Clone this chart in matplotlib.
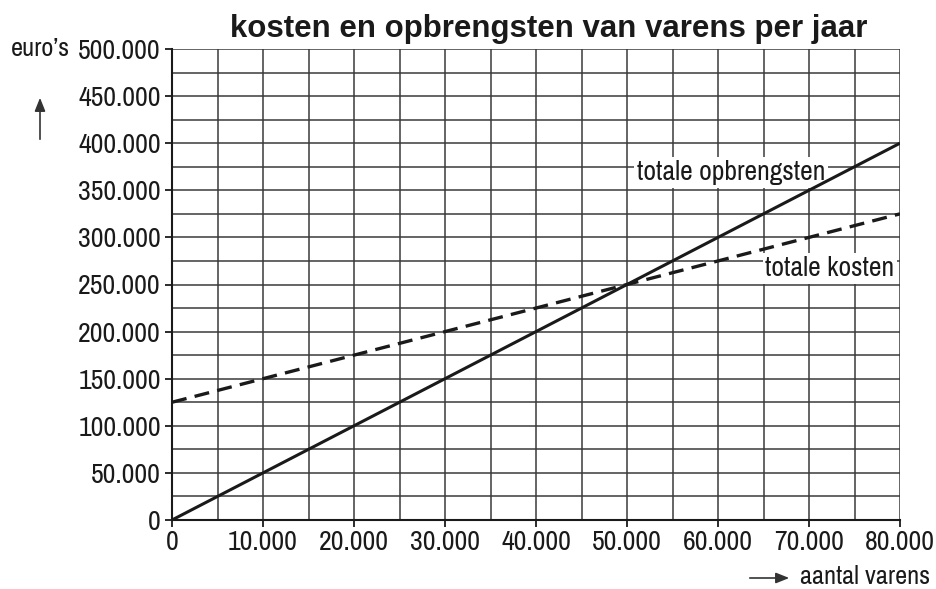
import matplotlib
matplotlib.use("Agg")
import matplotlib.pyplot as plt
from matplotlib.patches import FancyArrowPatch
import numpy as np

plt.rcParams['font.family'] = ['Archivo Narrow', 'Roboto Condensed', 'Liberation Sans', 'DejaVu Sans']

# data
aantal = [0, 80000]
opbrengsten = [0, 400000]
kosten = [125000, 325000]
x_ticks = [0, 10000, 20000, 30000, 40000, 50000, 60000, 70000, 80000]
x_labels = ['0', '10.000', '20.000', '30.000', '40.000', '50.000', '60.000', '70.000', '80.000']
y_ticks = [0, 50000, 100000, 150000, 200000, 250000, 300000, 350000, 400000, 450000, 500000]
y_labels = ['0', '50.000', '100.000', '150.000', '200.000', '250.000', '300.000', '350.000',
            '400.000', '450.000', '500.000']

fig = plt.figure(figsize=(9.36, 5.89), dpi=100)
ax = fig.add_axes([172/936, 1-520/589, (900-172)/936, (520-49)/589])
ax.set_xlim(0, 80000)
ax.set_ylim(0, 500000)

# grid
for gx in np.arange(5000, 80001, 5000):
    ax.axvline(gx, color='#3a3a3a', lw=1.1, zorder=1)
for gy in np.arange(25000, 500001, 25000):
    ax.axhline(gy, color='#3a3a3a', lw=1.1, zorder=1)

ax.plot(aantal, opbrengsten, color='#1a1a1a', lw=2.2, zorder=4, solid_capstyle='butt')
ax.plot(aantal, kosten, color='#1a1a1a', lw=2.4, ls=(0, (4.5, 2.5)), zorder=4)

ax.set_xticks(x_ticks)
ax.set_xticklabels(x_labels)
ax.set_yticks(y_ticks)
ax.set_yticklabels(y_labels)
ax.tick_params(direction='out', length=5, width=1.3, labelsize=20, colors='#1a1a1a', pad=3)
ax.tick_params(axis='x', pad=2)
for s in ['top', 'right']:
    ax.spines[s].set_visible(False)
for s in ['left', 'bottom']:
    ax.spines[s].set_linewidth(1.5)
    ax.spines[s].set_color('#1a1a1a')

ax.text(51100, 369000, 'totale opbrengsten', fontsize=20, color='#1a1a1a', ha='left', va='center',
        zorder=3, bbox=dict(facecolor='white', edgecolor='none', pad=2))
ax.text(79400, 267000, 'totale kosten', fontsize=20, color='#1a1a1a', ha='right', va='center',
        zorder=3, bbox=dict(facecolor='white', edgecolor='none', pad=2))

fig.text(549/936, 1-29/589, 'kosten en opbrengsten van varens per jaar', fontsize=22.5,
         fontweight='bold', family=['Liberation Sans', 'DejaVu Sans'], ha='center', va='center',
         color='#1a1a1a')
fig.text(40/936, 1-49/589, "euro’s", fontsize=19, ha='center', va='center', color='#1a1a1a')
fig.text(930/936, 1-577/589, 'aantal varens', fontsize=19, ha='right', va='center', color='#1a1a1a')

fig.patches.append(FancyArrowPatch((40/936, 1-142/589), (40/936, 1-95/589),
                   transform=fig.transFigure, arrowstyle='-|>,head_length=4,head_width=1.6',
                   mutation_scale=2, color='#333333', lw=1.2))
fig.patches.append(FancyArrowPatch((747/936, 1-578/589), (792/936, 1-578/589),
                   transform=fig.transFigure, arrowstyle='-|>,head_length=4,head_width=1.6',
                   mutation_scale=2, color='#333333', lw=1.2))

fig.savefig('out.png', dpi=100, facecolor='white')
